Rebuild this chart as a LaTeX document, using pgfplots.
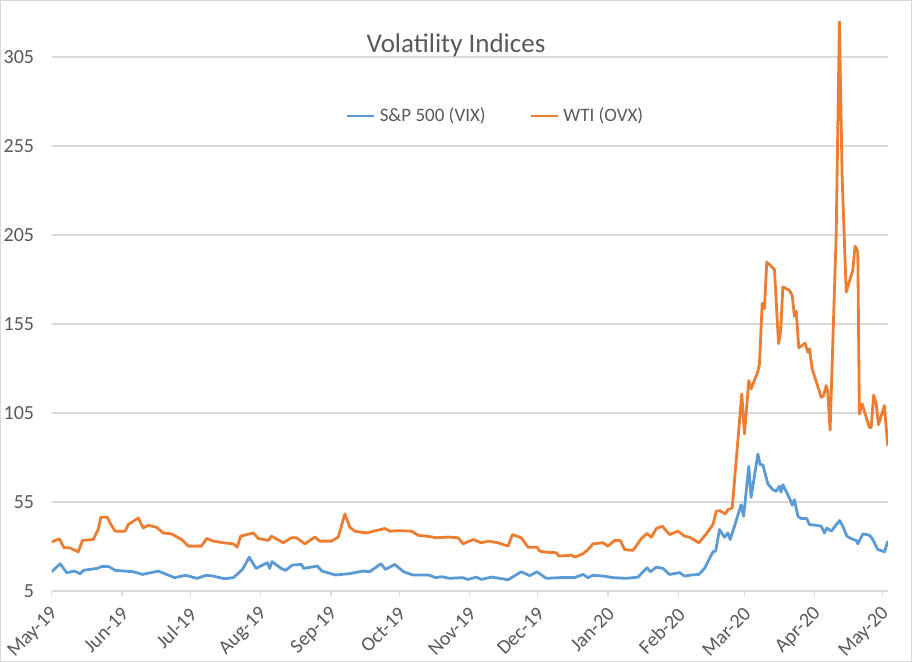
\documentclass[border=0pt]{standalone}
\usepackage{pgfplots}
\pgfplotsset{compat=1.18}
\usepackage{fontspec}
\setmainfont{Carlito}
\definecolor{vix}{HTML}{5B9BD5}
\definecolor{ovx}{HTML}{ED7D31}
\definecolor{txt}{HTML}{595959}
\definecolor{grd}{HTML}{D9D9D9}
\begin{document}
\begin{tikzpicture}
\path[use as bounding box] (0,0) rectangle (456pt,331pt);
\draw[grd, line width=0.6pt] (0.3pt,0.3pt) rectangle (455.7pt,330.7pt);
\begin{axis}[
  at={(25.85pt,35.5pt)}, anchor=south west,
  scale only axis, width=418.15pt, height=284.8pt,
  xmin=0, xmax=368.3, ymin=5, ymax=325,
  axis lines*=left,
  x axis line style={grd, line width=0.6pt},
  y axis line style={draw=none},
  ytick={5,55,105,155,205,255,305},
  yticklabels={5,55,105,155,205,255,305},
  xtick={0,31,61,92,123,153,184,214,245,276,305,336,366},
  xticklabels={May-19,Jun-19,Jul-19,Aug-19,Sep-19,Oct-19,Nov-19,Dec-19,Jan-20,Feb-20,Mar-20,Apr-20,May-20},
  ymajorgrids, grid style={grd, line width=0.6pt},
  tick align=outside, xtick pos=bottom,
  major tick length=2.5pt,
  xtick style={grd, line width=0.6pt},
  ytick style={draw=none},
  /pgf/number format/assume math mode=true,
  ticklabel style={font=\fontsize{10}{12}\selectfont, text=txt},
  xticklabel style={xshift=4pt, yshift=-5pt, rotate=45, anchor=east},
  yticklabel style={xshift=-2.8pt},
  legend style={at={(rel axis cs:0.532,0.834)}, anchor=center, draw=none, fill=none,
    legend columns=2, font=\fontsize{9.5}{11}\selectfont, text=txt,
    /tikz/every even column/.append style={column sep=20pt}},
  legend image code/.code={\draw[#1] (0pt,0pt) -- (13.5pt,0pt);},
]
\addplot[vix, line width=1.4pt, line join=round] coordinates {
(0,15.8) (3.7,20.3) (6.6,15.3) (10,16.2) (12.5,14.7) (14,16.6) (20,17.7) (22,18.8) (25,18.8) (28,16.6)
(36,15.8) (40,14.3) (47,16.2) (54,12.5) (59,13.8) (64,12.1) (68,13.8) (71,13.4) (76,11.9) (80,12.5)
(84,17.1) (87,24.0) (90,17.7) (95,20.9) (96,17.7) (97,21.5) (101,17.7) (103,16.6) (106,19.6) (110,19.9)
(111,17.7) (117,19.0) (119,16.2) (125,14.0) (131,14.7) (137,16.2) (140,15.8) (145,20.3) (147,17.1) (151,19.9)
(155,15.8) (159,14.0) (166,14.0) (169,12.5) (172,13.0) (175,12.1) (181,12.5) (183.4,11.5) (187,12.8) (189.2,11.5)
(193.6,12.8) (197.3,12.1) (201,11.3) (206.8,15.8) (210.5,13.6) (213.7,15.8) (217.8,12.1) (223.7,12.5) (230.3,12.5) (234,14.3)
(236.2,12.5) (238.4,13.8) (242.8,13.4) (247.2,12.5) (253.1,12.1) (258.2,12.8) (262.2,18.1) (263.6,15.8) (266.3,18.4) (269.2,17.7)
(272.1,14.3) (276.5,15.3) (278.7,13.4) (281.7,14.0) (285,14.3) (287.5,17.7) (291.2,27.0) (292.4,27.4) (294.1,39.5) (296.3,35.2)
(297.8,37.6) (298.8,33.9) (300.7,41.4) (303.6,53.5) (304.7,47) (307,75) (308,57.6) (311,81.9) (312,75.9) (313.2,75.9)
(315.4,65.1) (317.6,61.9) (319.1,61) (320.5,63.8) (321.2,60.6) (322,64.7) (324.9,57.2) (326.1,53.2) (327.1,56.3) (328.6,47)
(330,45.7) (332.5,45.7) (333.7,42.3) (336.7,41.9) (338.9,41.4) (340.3,37.6) (341.4,40.4) (343.3,38.6) (347,44.6) (348.4,41.4)
(350.2,35.8) (352,34.5) (354.3,33.4) (355,31.5) (357.2,37.1) (360.2,36.3) (361.6,33.9) (363.8,28.3) (366,27.4) (366.8,27.0)
(368.2,33.0)
};
\addlegendentry{S\&P 500 (VIX)}
\addplot[ovx, line width=1.4pt, line join=round] coordinates {
(0,32.6) (3.4,34.3) (5.4,29.3) (7.8,29.3) (11.7,27.0) (13.6,33.4) (18.3,33.9) (20.5,39.5) (21.6,46.4) (24.5,46.4)
(25.7,43.2) (27.9,38.6) (32.3,38.6) (33.7,42.3) (38.1,46.0) (40.3,40.4) (42.5,41.9) (46.2,40.8) (49.1,37.6) (52.8,37.1)
(57.2,33.9) (60.2,30.2) (66,30.2) (68.2,34.5) (71.2,33.0) (75.6,32.1) (80,31.5) (81.7,29.6) (83.2,35.8) (88.8,37.6)
(91,34.5) (95.4,33.4) (96.8,35.8) (102,32.1) (105.6,34.9) (107.8,34.9) (111.5,31.5) (115.9,35.3) (118.1,33.0) (123.2,33.0)
(126.2,35.3) (129.1,48.3) (131.3,40.8) (133.5,38.6) (138.6,37.6) (146.7,40.1) (148.9,38.6) (152.6,38.9) (158.5,38.6) (161.4,36.3)
(165.1,35.8) (169.5,34.9) (174.6,35.3) (179,34.9) (181.2,31.5) (185.6,33.9) (189.2,32.1) (192.2,33.0) (196.6,32.1) (201,30.2)
(202.9,36.7) (206.8,34.9) (209.8,29.6) (213.7,29.6) (214.9,27.4) (217.8,26.8) (222.2,26.5) (223.4,24.6) (228.9,25.1) (230.3,24.0)
(234,25.9) (236.2,28.3) (238.4,31.5) (242.8,32.1) (245,30.2) (247.9,33.4) (250.4,33.4) (252.3,28.3) (256,27.8) (259.7,34.5)
(262.2,37.3) (264.1,35.2) (266.3,40.1) (268.9,41.4) (272.1,36.7) (275.8,38.6) (278.7,35.8) (281,35.2) (285,32.1) (288.3,37.1)
(291.2,42.3) (292.7,49.8) (294.2,50.1) (296.7,48.3) (297.8,50.7) (299.7,51.6) (303.9,115.7) (305.1,93.2) (307,123.2) (308,118.5)
(311,128.4) (311.7,132.6) (312.9,166.7) (313.9,163.6) (314.9,189.8) (318.3,185.6) (320.1,143.9) (321,150.4) (322,175.8) (324.9,173.9)
(326.1,171.1) (327.1,159.3) (327.9,162.2) (329,141.6) (331.8,144.2) (333,139.1) (333.7,141.1) (334.9,129.8) (338.9,113.8) (339.9,114.7)
(341.1,120.4) (341.8,116.6) (342.8,95.4) (345.5,205.8) (346.9,325) (348.1,237.7) (349.9,172.9) (352.8,185.2) (353.8,198.7) (355,195.5)
(355.7,104.4) (356.9,110.1) (360.1,96.9) (360.9,96.9) (362,115.1) (363.1,110.1) (364.1,98.4) (366.7,109.1) (368.2,86.6)
};
\addlegendentry{WTI (OVX)}
\end{axis}
\node[font=\fontsize{13.5}{16}\selectfont, text=txt] at (228pt,308.5pt) {Volatility Indices};
\end{tikzpicture}
\end{document}
